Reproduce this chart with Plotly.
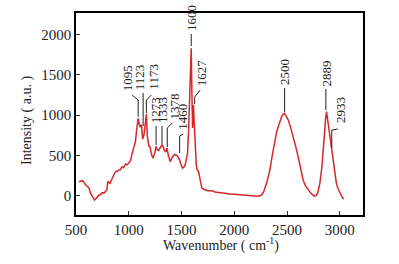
import plotly.graph_objects as go

wavenumber = [527, 545, 560, 575, 591, 607, 622, 638, 655, 676, 695, 716, 732, 748, 765, 780, 792, 801, 812, 822,
              835, 843, 860, 874, 890, 905, 920, 937, 952, 969, 985, 1000, 1016, 1032, 1047, 1063, 1075, 1089, 1100, 1110,
              1120, 1132, 1145, 1155, 1167, 1175, 1182, 1190, 1198, 1205, 1218, 1230, 1245, 1259, 1270, 1283, 1295, 1315, 1328, 1337,
              1350, 1362, 1375, 1394, 1410, 1425, 1440, 1457, 1470, 1482, 1497, 1510, 1522, 1535, 1545, 1557, 1567, 1578, 1585, 1592,
              1598, 1605, 1610, 1614, 1620, 1630, 1640, 1648, 1661, 1677, 1693, 1710, 1724, 1750, 1771, 1790, 1818, 1840, 1866, 1900,
              1930, 1960, 2000, 2030, 2055, 2100, 2149, 2190, 2225, 2250, 2263, 2280, 2291, 2310, 2325, 2338, 2360, 2385, 2400, 2417,
              2435, 2449, 2462, 2474, 2490, 2511, 2535, 2559, 2580, 2606, 2630, 2653, 2675, 2700, 2725, 2754, 2773, 2790, 2811, 2830,
              2842, 2858, 2866, 2874, 2880, 2889, 2900, 2912, 2925, 2937, 2950, 2968, 2985, 3000, 3020, 3037]
intensity = [170, 180, 184, 165, 130, 115, 97, 27, -10, -56, -30, 6, 10, 35, 30, 47, 70, 175, 165, 150,
             190, 214, 250, 296, 300, 317, 320, 358, 345, 391, 380, 400, 430, 524, 606, 668, 820, 959, 880, 850,
             880, 700, 760, 880, 1010, 750, 640, 610, 620, 560, 500, 465, 520, 610, 570, 560, 590, 630, 600, 560,
             540, 590, 500, 420, 470, 500, 510, 495, 470, 440, 380, 340, 350, 380, 450, 520, 800, 1250, 1600, 1830,
             1300, 840, 1000, 1125, 900, 560, 380, 320, 300, 195, 95, 78, 70, 60, 58, 60, 44, 40, 28, 25,
             22, 18, 15, 12, 8, 4, -4, -8, -10, 0, 10, 50, 90, 170, 250, 320, 500, 690, 780, 855,
             930, 980, 1010, 1022, 990, 940, 840, 730, 620, 480, 330, 190, 120, 68, 30, -5, -3, 30, 150, 350,
             520, 815, 960, 1042, 990, 900, 770, 650, 540, 400, 270, 150, 80, 30, -15, -45]

x_ticks = [500, 1000, 1500, 2000, 2500, 3000]
y_ticks = [0, 500, 1000, 1500, 2000]

# peak labels: text, text centre x, text bottom y, leader path points (x, y)
peak_labels = [
    ("1095", 985, 1273, [(1032, 1248), (1089, 1186), (1089, 979)]),
    ("1123", 1110, 1286, [(1136, 1273), (1136, 863)]),
    ("1173", 1236, 1286, [(1214, 1248), (1167, 1186), (1167, 1025)]),
    ("1273", 1261, 876, [(1259, 863), (1259, 627)]),
    ("1333", 1325, 876, [(1315, 863), (1315, 640)]),
    ("1378", 1425, 913, [(1413, 901), (1365, 839), (1365, 602)]),
    ("1460", 1514, 793, [(1517, 764), (1482, 739), (1482, 528)]),
    ("1600", 1599, 2019, [(1592, 2006), (1592, 1857)]),
    ("1627", 1691, 1335, [(1677, 1311), (1625, 1224), (1625, 1137)]),
    ("2500", 2480, 1348, [(2477, 1335), (2477, 1037)]),
    ("2889", 2874, 1335, [(2868, 1323), (2868, 1062)]),
    ("2933", 3012, 876, [(2981, 826), (2924, 814), (2924, 590)]),
]

fig = go.Figure()
fig.add_trace(go.Scatter(x=wavenumber, y=intensity, mode="lines",
                         line=dict(color="#d7262c", width=1.5), showlegend=False))

serif = "Liberation Serif, Times New Roman, serif"
annotations = []
shapes = []
for txt, tx, ty, pts in peak_labels:
    annotations.append(dict(x=tx, y=ty, xref="x", yref="y", text=txt, textangle=-90,
                            showarrow=False, xanchor="center", yanchor="bottom",
                            font=dict(family=serif, size=13, color="#222")))
    path = "M " + " L ".join(f"{px},{py}" for px, py in pts)
    shapes.append(dict(type="path", path=path, xref="x", yref="y",
                       line=dict(color="#222", width=1)))

annotations.append(dict(x=-0.171, y=0.47, xref="paper", yref="paper", text="Intensity ( a.u. )",
                        textangle=-90, showarrow=False, xanchor="center", yanchor="middle",
                        font=dict(family=serif, size=14, color="#222")))
annotations.append(dict(x=0.505, y=-0.1436, xref="paper", yref="paper", text="Wavenumber ( cm<sup>-1</sup>)",
                        showarrow=False, xanchor="center", yanchor="middle",
                        font=dict(family=serif, size=14, color="#222")))

axis_common = dict(showline=True, mirror=True, linecolor="black", linewidth=1.5,
                   ticks="inside", ticklen=4, tickwidth=1, tickcolor="#333",
                   showgrid=False, zeroline=False,
                   tickfont=dict(family=serif, size=15, color="#222"))

fig.update_layout(
    width=399, height=264,
    margin=dict(l=76, r=36, t=13, b=49),
    paper_bgcolor="white", plot_bgcolor="white",
    xaxis=dict(range=[500, 3220], tickvals=x_ticks, **axis_common),
    yaxis=dict(range=[-242, 2267], tickvals=y_ticks, **axis_common),
    annotations=annotations, shapes=shapes,
)

fig.write_html("out.html", config={"displayModeBar": False},
               post_script="document.body.style.margin='0';document.body.style.overflow='hidden';")
